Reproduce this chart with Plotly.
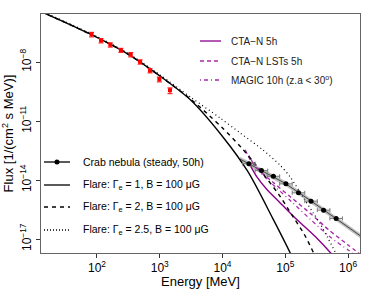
import plotly.graph_objects as go

# ---------------- data ----------------
# Fermi-LAT points (red)
lat_E = [82, 116, 163, 240, 345, 485, 700, 985, 1455]
lat_F = [2.59e-7, 1.28e-7, 7.64e-8, 4.09e-8, 2.47e-8, 1.04e-8, 3.78e-9, 1.36e-9, 3.72e-10]
lat_Ferr = [6.5e-8, 3.2e-8, 1.9e-8, 1.0e-8, 6.2e-9, 2.6e-9, 9.5e-10, 3.6e-10, 1.2e-10]

# Crab nebula steady (50h) points
crab_E = [26300, 41690, 64570, 102300, 162200, 257000, 407400, 645700]
crab_F = [6.84e-14, 3.03e-14, 1.56e-14, 6.43e-15, 2.25e-15, 8.45e-16, 2.96e-16, 1.12e-16]
crab_Elo = [20890, 33110, 51290, 81280, 128800, 204200, 323600, 512900]
crab_Ehi = [33110, 52480, 81290, 128800, 204200, 323600, 512900, 812800]

# Crab band
band_E = [19050, 39810, 100000, 251200, 631000, 1778000]
band_F = [1.175e-13, 3.16e-14, 6.76e-15, 9.12e-16, 1.175e-16, 1.10e-17]
band_hi = [1.55e-13, 4.17e-14, 8.92e-15, 1.20e-15, 1.55e-16, 1.45e-17]
band_lo = [8.90e-14, 2.39e-14, 5.12e-15, 6.91e-16, 8.90e-17, 8.33e-18]

# Flare models
g1_E = [12.6, 31.6, 100, 316, 1000, 3162, 10000, 25120, 63100, 125900, 177800]
g1_F = [3.80e-6, 1.02e-6, 1.82e-7, 2.51e-8, 2.0e-9, 1.12e-10, 1.66e-12, 2.82e-14, 1.12e-16, 1.41e-18, 1.26e-19]

g2_E = [12.6, 31.6, 100, 316, 1000, 3162, 6310, 10000, 19950, 39810, 79430, 125900, 199500, 281800, 354800]
g2_F = [3.80e-6, 1.02e-6, 1.82e-7, 2.51e-8, 2.0e-9, 1.26e-10, 1.78e-11, 4.47e-12, 4.47e-13, 3.16e-14, 1.78e-15, 1.78e-16, 1.78e-17, 2.0e-18, 3.98e-19]

g25_E = [12.6, 31.6, 100, 316, 1000, 3162, 9120, 19050, 43650, 83180, 120200, 190500, 275400, 363100, 467700, 631000, 794300]
g25_F = [4.17e-6, 1.12e-6, 2.0e-7, 2.75e-8, 2.29e-9, 1.58e-10, 1.45e-11, 2.51e-12, 3.47e-13, 5.62e-14, 1.41e-14, 1.41e-15, 2.24e-16, 5.62e-17, 1.26e-17, 2.0e-18, 3.98e-19]

# Sensitivities
ctan_E = [28180, 35480, 50120, 79430, 125900, 199500, 316200, 524800, 631000]
ctan_F = [5.01e-14, 1.41e-14, 3.55e-15, 7.94e-16, 1.78e-16, 4.47e-17, 1.12e-17, 2.0e-18, 1.0e-18]

lst_E = [22910, 28180, 38020, 63100, 120200, 251200, 501200, 1000000, 1585000]
lst_F = [3.47e-13, 1.0e-13, 3.16e-14, 7.94e-15, 1.41e-15, 2.0e-16, 2.8e-17, 5.0e-18, 1.6e-18]

magic_E = [26300, 33110, 45710, 72440, 125900, 251200, 501200, 1000000, 1413000]
magic_F = [1.78e-13, 5.01e-14, 1.58e-14, 3.98e-15, 7.94e-16, 1.0e-16, 1.4e-17, 2.8e-18, 1.3e-18]

x_ticks = [1e2, 1e3, 1e4, 1e5, 1e6]
x_ticktext = ["10<sup>2</sup>", "10<sup>3</sup>", "10<sup>4</sup>", "10<sup>5</sup>", "10<sup>6</sup>"]
y_ticks = [1e-8, 1e-11, 1e-14, 1e-17]
y_ticktext = ["10<sup>\u22128</sup>", "10<sup>\u221211</sup>", "10<sup>\u221214</sup>", "10<sup>\u221217</sup>"]

PURPLE = "#8B008B"
PURPLE2 = "#A62AA6"
FONT = "Liberation Sans, Arial, Helvetica, sans-serif"

fig = go.Figure()

# band
fig.add_trace(go.Scatter(x=band_E, y=band_hi, mode="lines", line=dict(width=0, color="#BBBBBB"),
                         showlegend=False, hoverinfo="skip"))
fig.add_trace(go.Scatter(x=band_E, y=band_lo, mode="lines", line=dict(width=0, color="#BBBBBB"),
                         fill="tonexty", fillcolor="rgba(170,170,170,0.75)", showlegend=False, hoverinfo="skip"))
fig.add_trace(go.Scatter(x=band_E, y=band_F, mode="lines", line=dict(width=1, color="#444444"),
                         showlegend=False))

# sensitivities
fig.add_trace(go.Scatter(x=ctan_E, y=ctan_F, mode="lines", line=dict(color=PURPLE, width=1.4, shape="spline", smoothing=0.8),
                         showlegend=False))
fig.add_trace(go.Scatter(x=lst_E, y=lst_F, mode="lines", line=dict(color=PURPLE2, width=1.4, dash="4px,3px", shape="spline", smoothing=0.8),
                         showlegend=False))
fig.add_trace(go.Scatter(x=magic_E, y=magic_F, mode="lines", line=dict(color=PURPLE2, width=1.2, dash="1px,3px,4px,3px", shape="spline", smoothing=0.8),
                         showlegend=False))

# flare models
fig.add_trace(go.Scatter(x=g1_E, y=g1_F, mode="lines", line=dict(color="black", width=1.4, shape="spline", smoothing=0.8),
                         showlegend=False))
fig.add_trace(go.Scatter(x=g2_E, y=g2_F, mode="lines", line=dict(color="black", width=1.4, dash="4px,4px", shape="spline", smoothing=0.8),
                         showlegend=False))
fig.add_trace(go.Scatter(x=g25_E, y=g25_F, mode="lines", line=dict(color="black", width=1.2, dash="1px,3px", shape="spline", smoothing=0.8),
                         showlegend=False))

# crab points
crab_plus = [h - e for h, e in zip(crab_Ehi, crab_E)]
crab_minus = [e - l for e, l in zip(crab_E, crab_Elo)]
fig.add_trace(go.Scatter(x=crab_E, y=crab_F, mode="markers",
                         marker=dict(color="black", size=5),
                         error_x=dict(type="data", array=crab_plus, arrayminus=crab_minus, color="#777777", thickness=1, width=2),
                         showlegend=False))

# LAT points
fig.add_trace(go.Scatter(x=lat_E, y=lat_F, mode="markers",
                         marker=dict(color="red", size=4, symbol="square"),
                         error_y=dict(type="data", array=lat_Ferr, color="#FF3030", thickness=1.2, width=2.5),
                         showlegend=False))

# ---------------- manual legends ----------------
L, R, T, B = 41, 360, 14, 253
def px(x):
    return (x - L) / (R - L)
def py(y):
    return 1 - (y - T) / (B - T)

shapes = []
annotations = []

top_items = [("CTA\u2212N 5h", PURPLE, "solid", 41),
             ("CTA\u2212N LSTs 5h", PURPLE2, "4px,3px", 61),
             ("MAGIC 10h (z.a &lt; 30<sup>o</sup>)", PURPLE2, "1px,3px,4px,3px", 80)]
for txt, col, dash, yy in top_items:
    shapes.append(dict(type="line", xref="paper", yref="paper", x0=px(200), x1=px(221), y0=py(yy), y1=py(yy),
                       line=dict(color=col, width=1.3, dash=dash)))
    annotations.append(dict(text=txt, xref="paper", yref="paper", x=px(229), y=py(yy), xanchor="left", yanchor="middle",
                            showarrow=False, font=dict(size=10, color="#222222", family=FONT)))

bot_items = [("Crab nebula (steady, 50h)", "solid", 162),
             ("Flare: \u0393<sub>e</sub> = 1, B = 100 \u03bcG", "solid", 185),
             ("Flare: \u0393<sub>e</sub> = 2, B = 100 \u03bcG", "4px,4px", 207),
             ("Flare: \u0393<sub>e</sub> = 2.5, B = 100 \u03bcG", "1px,2px", 230)]
for i, (txt, dash, yy) in enumerate(bot_items):
    shapes.append(dict(type="line", xref="paper", yref="paper", x0=px(44), x1=px(70), y0=py(yy), y1=py(yy),
                       line=dict(color="black", width=1.3, dash=dash)))
    if i == 0:
        shapes.append(dict(type="circle", xref="paper", yref="paper", x0=px(54.5), x1=px(59.5), y0=py(164.5), y1=py(159.5),
                           fillcolor="black", line=dict(color="black", width=0)))
    annotations.append(dict(text=txt, xref="paper", yref="paper", x=px(81), y=py(yy), xanchor="left", yanchor="middle",
                            showarrow=False, font=dict(size=10.5, color="black", family=FONT)))

fig.update_layout(
    width=374, height=289,
    margin=dict(l=L, r=374 - R, t=T, b=289 - B),
    paper_bgcolor="white", plot_bgcolor="white",
    font=dict(family=FONT, color="black"),
    showlegend=False,
    shapes=shapes, annotations=annotations,
    xaxis=dict(type="log", range=[1.108, 6.19], tickvals=x_ticks, ticktext=x_ticktext,
               ticks="outside", ticklen=4, tickcolor="#333333", showline=True, linecolor="#666666", linewidth=1,
               mirror=True, showgrid=False, zeroline=False, tickfont=dict(size=12), automargin=False,
               title=dict(text="Energy [MeV]", font=dict(size=13), standoff=0)),
    yaxis=dict(type="log", range=[-17.71, -5.55], tickvals=y_ticks, ticktext=y_ticktext, tickangle=-90,
               ticks="outside", ticklen=4, tickcolor="#333333", showline=True, linecolor="#666666", linewidth=1,
               mirror=True, showgrid=False, zeroline=False, tickfont=dict(size=12), automargin=False,
               title=dict(text="Flux [1/(cm<sup>2</sup> s MeV)]", font=dict(size=13), standoff=2)),
)

fig.write_html("out.html", config={"displayModeBar": False, "staticPlot": True},
               post_script="document.body.style.margin='0px';document.body.style.overflow='hidden';")
